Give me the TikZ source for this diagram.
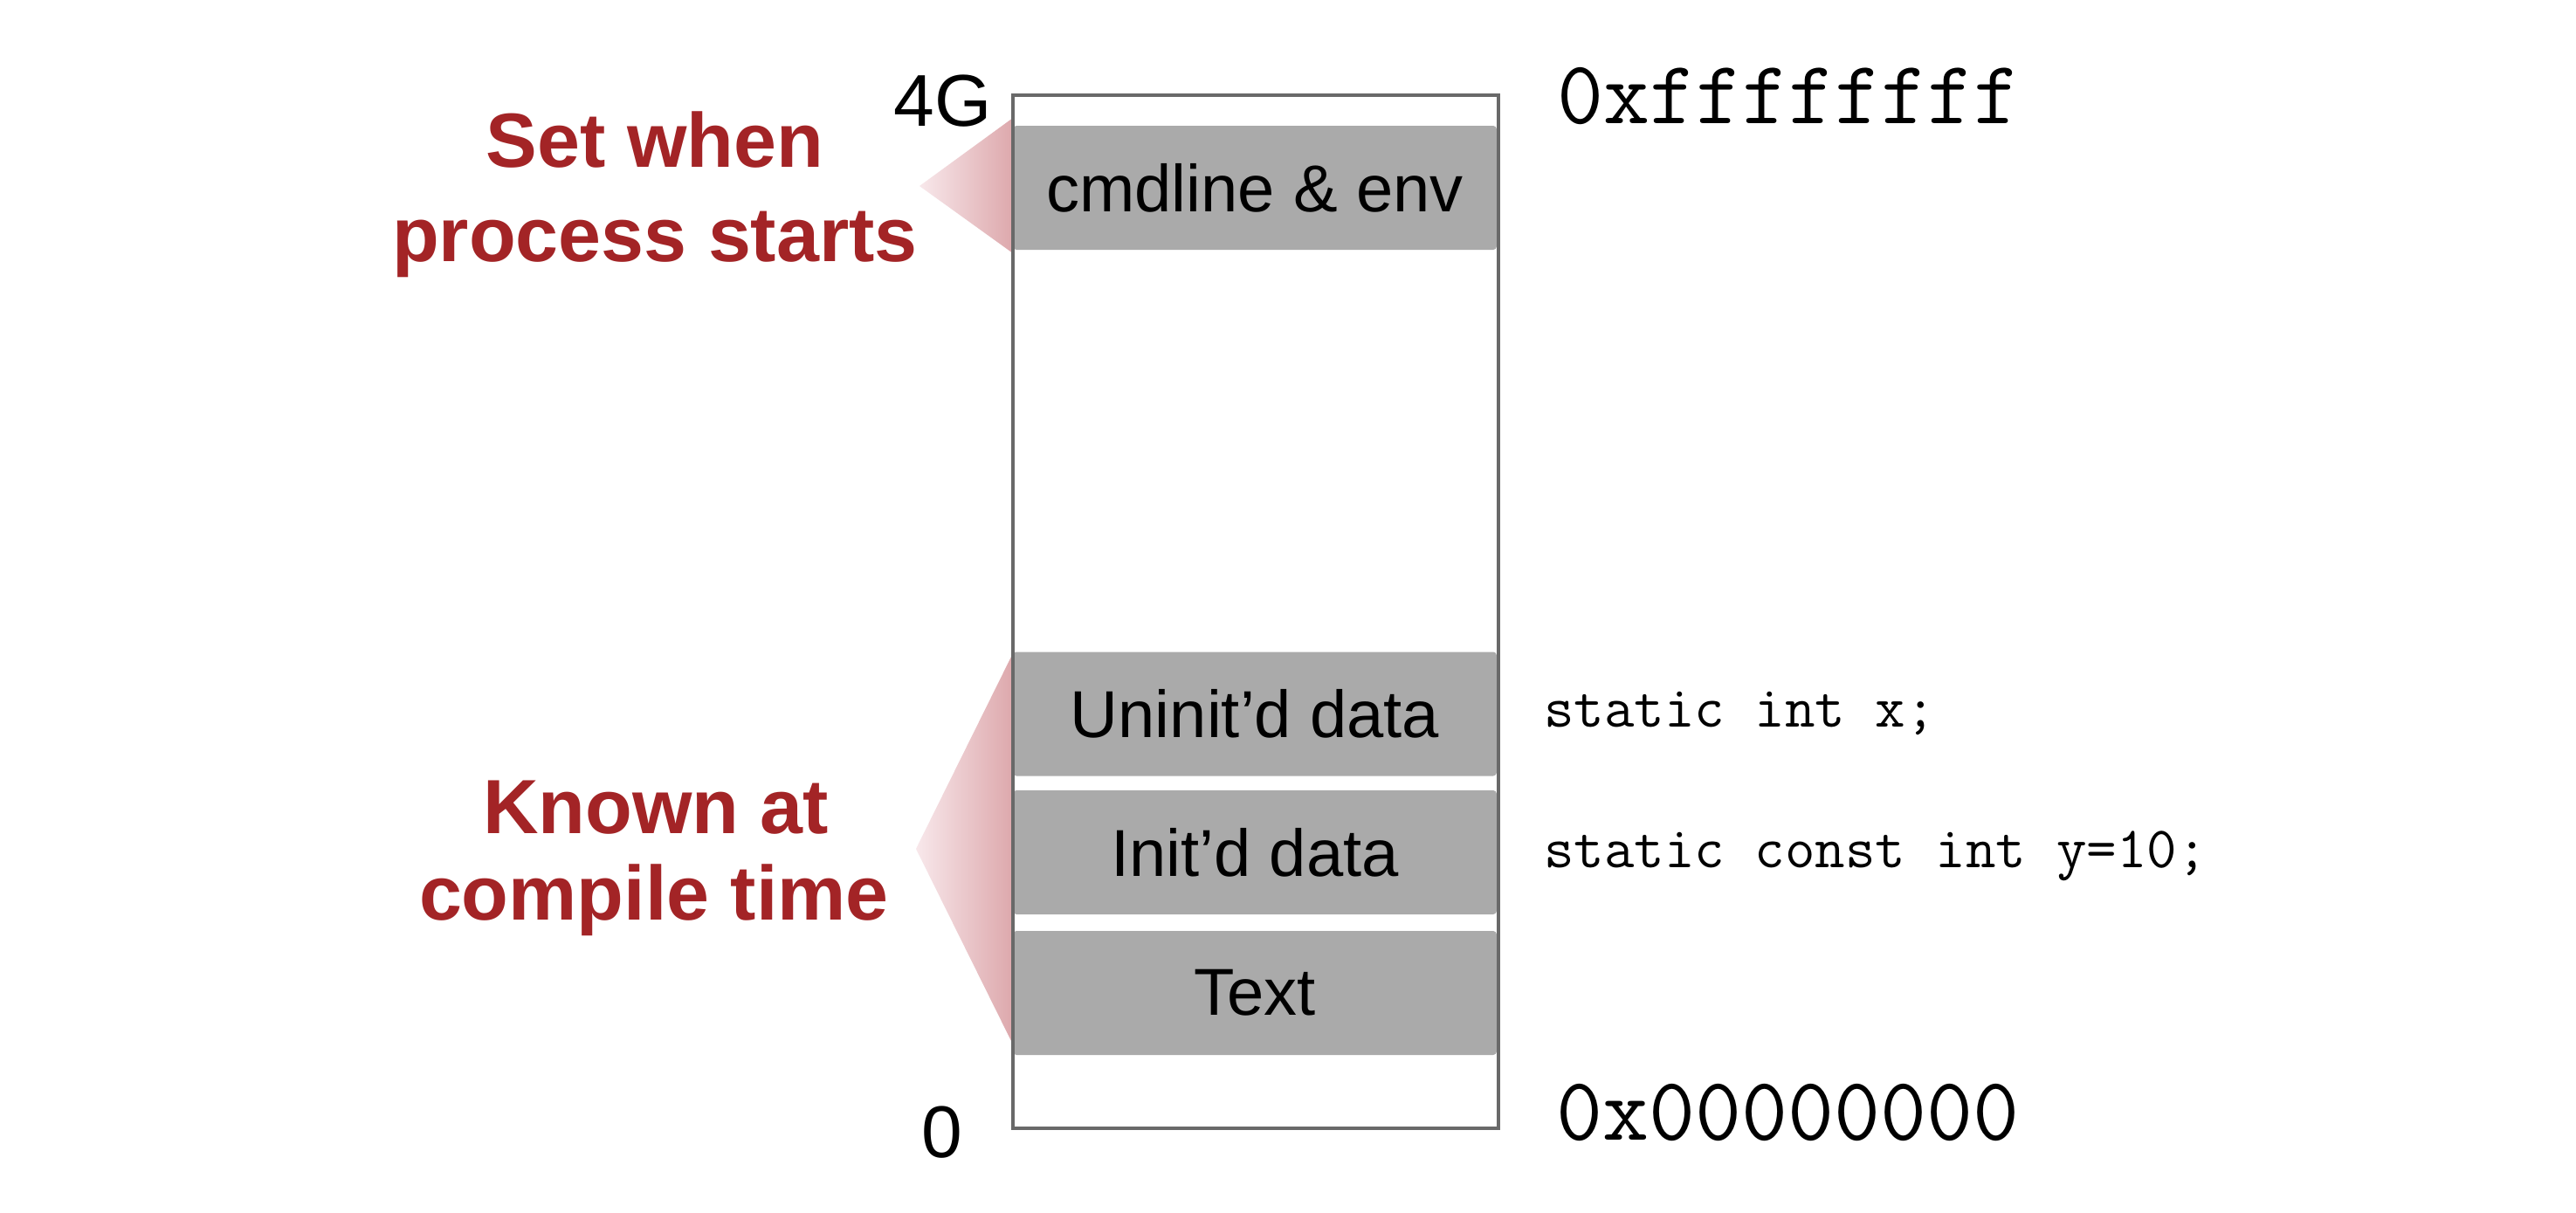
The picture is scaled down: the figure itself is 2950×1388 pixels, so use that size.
\documentclass[tikz,border=0pt]{standalone}
\usepackage{fontspec}
\setmainfont{Liberation Sans}
\definecolor{labelred}{RGB}{163,36,38}
\definecolor{segfill}{RGB}{170,170,170}
\definecolor{framegray}{RGB}{105,105,105}
\definecolor{wedgedark}{RGB}{221,168,172}
\definecolor{wedgelight}{RGB}{248,232,235}
\begin{document}
\begin{tikzpicture}[x=0.5pt,y=-0.5pt,
  seg/.style={fill=segfill, inner sep=0pt, minimum width=277pt, minimum height=71pt,
    rounded corners=2pt, font=\fontsize{38}{44}\selectfont},
  redlbl/.style={text=labelred, font=\bfseries\fontsize{44}{52}\selectfont, inner sep=0pt, anchor=base},
  addr/.style={font=\ttfamily\fontsize{51.5}{60}\selectfont, inner sep=0pt, anchor=base west},
  codetxt/.style={font=\ttfamily\fontsize{33.5}{40}\selectfont, inner sep=0pt, anchor=base west},
  bound/.style={font=\fontsize{42}{50}\selectfont, inner sep=0pt, anchor=base east},
  wedge/.style={left color=wedgelight, right color=wedgedark},
  memframe/.style={draw=framegray, line width=1.6pt, inner sep=0pt,
    minimum width=278pt, minimum height=591.5pt}]
\useasboundingbox[fill=white] (0,0) rectangle (2950,1388);

% wedges
\coordinate (w1a) at (1160,135);
\coordinate (w1b) at (1053,213);
\coordinate (w1c) at (1160,290);
\coordinate (w2a) at (1160,748);
\coordinate (w2b) at (1049,972);
\coordinate (w2c) at (1160,1196);
\shade[wedge] (w1a) -- (w1b) -- (w1c) -- cycle;
\shade[wedge] (w2a) -- (w2b) -- (w2c) -- cycle;

% segments
\node[seg] (cmd) at (1437,215) {cmdline \& env};
\node[seg] (uninit) at (1437,817.5) {Uninit’d data};
\node[seg] (init) at (1437,976) {Init’d data};
\node[seg] (text) at (1437,1137) {Text};

% memory frame
\node[memframe] (mem) at (1438,700.5) {};

% labels
\node[redlbl] (setA) at (750,191.5) {Set when};
\node[redlbl] (setB) at (750,299) {process starts};
\node[redlbl] (knownA) at (751,954) {Known at};
\node[redlbl] (knownB) at (749,1053) {compile time};

\node[bound] (top) at (1136,144) {4G};
\node[bound] (bottom) at (1103,1325) {0};

\node[addr] (hi) at (1783,141) {0xffffffff};
\node[addr] (lo) at (1782,1305) {0x00000000};

\node[codetxt] (cx) at (1768,832) {static int x;};
\node[codetxt] (cy) at (1768,993) {static const int y=10;};
\end{tikzpicture}
\end{document}
